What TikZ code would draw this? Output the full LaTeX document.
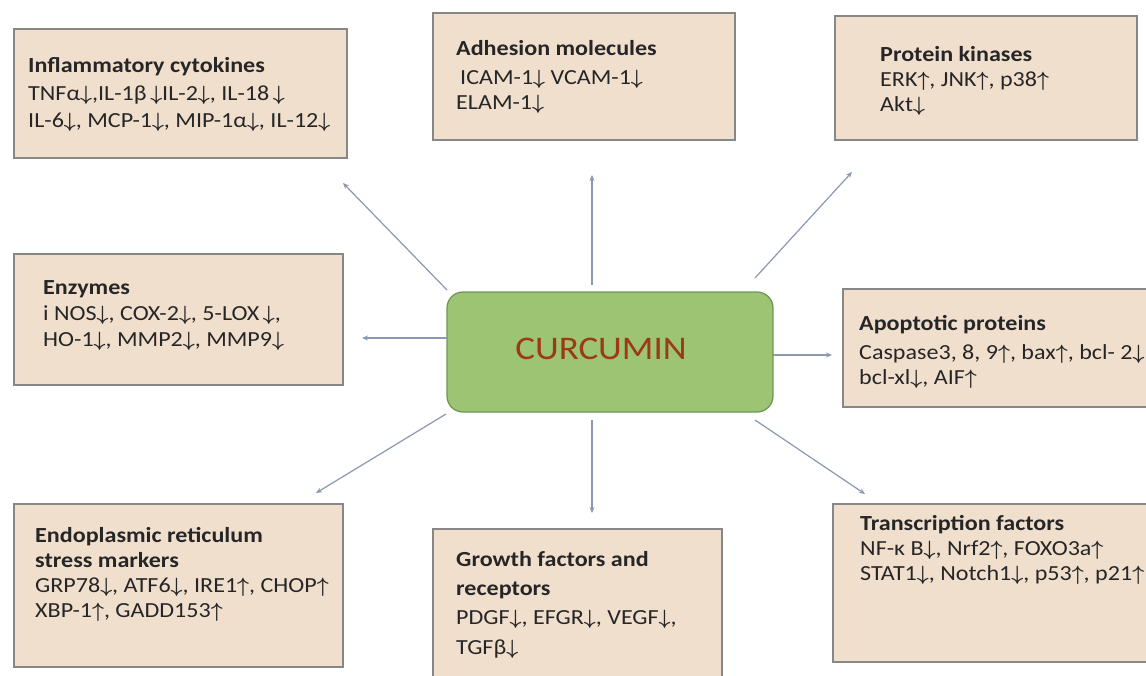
\documentclass[tikz,border=0pt]{standalone}
\usepackage{fontspec}
\setmainfont[FakeStretch=1.12]{Carlito}
\usetikzlibrary{arrows.meta}
\definecolor{boxfill}{RGB}{241,223,206}
\definecolor{boxline}{RGB}{135,135,135}
\definecolor{curfill}{RGB}{157,196,114}
\definecolor{curline}{RGB}{112,150,85}
\definecolor{curtext}{RGB}{155,58,20}
\definecolor{arrowcol}{RGB}{138,152,178}
\definecolor{txt}{RGB}{38,38,38}
\newcommand\mydn{{\boldmath$\downarrow$}}
\newcommand\myup{{\boldmath$\uparrow$}}
\newcommand\bsz{\fontsize{21.5}{24}\selectfont}
\tikzset{
  infobox/.style={draw=boxline, line width=1.4pt, fill=boxfill, anchor=north west, inner sep=0pt, outer sep=0pt},
  hd/.style={anchor=base west, inner sep=0pt, text=txt, font=\bsz\bfseries},
  tx/.style={anchor=base west, inner sep=0pt, text=txt, font=\bsz},
  conn/.style={draw=arrowcol, line width=1.2pt, -{Stealth[length=6pt,width=5pt]}},
  curbox/.style={draw=curline, line width=1.3pt, fill=curfill, rounded corners=16pt, minimum width=326pt, minimum height=120pt, inner sep=0pt}
}
\begin{document}
\begin{tikzpicture}[x=1pt,y=-1pt]
\useasboundingbox (0,0) rectangle (1146,675);
\clip (0,0) rectangle (1146,675);
\fill[white] (0,0) rectangle (1146,675);

% boxes
\node[infobox, minimum width=333pt, minimum height=129pt] (b1) at (14,29) {};
\node[infobox, minimum width=302pt, minimum height=127pt] (b2) at (433,13) {};
\node[infobox, minimum width=302pt, minimum height=124pt] (b3) at (835,16) {};
\node[infobox, minimum width=329pt, minimum height=131pt] (b4) at (14,254) {};
\node[infobox, minimum width=315pt, minimum height=118pt] (b5) at (843,289) {};
\node[infobox, minimum width=329pt, minimum height=163pt] (b6) at (14,504) {};
\node[infobox, minimum width=289pt, minimum height=160pt] (b7) at (433,529) {};
\node[infobox, minimum width=325pt, minimum height=158pt] (b8) at (833,504) {};

% centre
\node[curbox] (cur) at (610,352) {};
\node[inner sep=0pt, text=curtext, font=\fontsize{33}{36}\selectfont] (curlabel) at (601,349) {CURCUMIN};

% texts
\node[hd] (t1h) at (28,72) {Inflammatory cytokines};
\node[tx] (t1a) at (28,100) {TNFα\mydn,IL-1β\,\mydn IL-2\mydn, IL-18\,\mydn};
\node[tx] (t1b) at (28,127) {IL-6\mydn, MCP-1\mydn, MIP-1α\mydn, IL-12\mydn};

\node[hd] (t2h) at (456,55) {Adhesion molecules};
\node[tx] (t2a) at (460,84) {ICAM-1\mydn\ VCAM-1\mydn};
\node[tx] (t2b) at (456,109) {ELAM-1\mydn};

\node[hd] (t3h) at (880,61) {Protein kinases};
\node[tx] (t3a) at (880,86) {ERK\myup, JNK\myup, p38\myup};
\node[tx] (t3b) at (880,111) {Akt\mydn};

\node[hd] (t4h) at (43,294) {Enzymes};
\node[tx] (t4a) at (43,320) {i NOS\mydn, COX-2\mydn, 5-LOX\,\mydn,};
\node[tx] (t4b) at (43,346) {HO-1\mydn, MMP2\mydn, MMP9\mydn};

\node[hd] (t5h) at (859,330) {Apoptotic proteins};
\node[tx] (t5a) at (859,359) {Caspase3, 8, 9\myup, bax\myup, bcl- 2\mydn};
\node[tx] (t5b) at (859,384) {bcl-xl\mydn, AIF\myup};

\node[hd] (t6h) at (35,542) {Endoplasmic reticulum};
\node[hd] (t6i) at (35,567) {stress markers};
\node[tx] (t6a) at (35,592) {GRP78\mydn, ATF6\mydn, IRE1\myup, CHOP\myup};
\node[tx] (t6b) at (35,617) {XBP-1\myup, GADD153\myup};

\node[hd] (t7h) at (456,566) {Growth factors and};
\node[hd] (t7i) at (456,595) {receptors};
\node[tx] (t7a) at (456,624) {PDGF\mydn, EFGR\mydn, VEGF\mydn,};
\node[tx] (t7b) at (456,654) {TGFβ\mydn};

\node[hd] (t8h) at (860,530) {Transcription factors};
\node[tx] (t8a) at (860,555) {NF-κ B\mydn, Nrf2\myup, FOXO3a\myup};
\node[tx] (t8b) at (860,580) {STAT1\mydn, Notch1\mydn, p53\myup, p21\myup};

% connector ends
\coordinate (s1) at (447,290); \coordinate (e1) at (343,183);
\coordinate (s2) at (592,285); \coordinate (e2) at (592,175);
\coordinate (s3) at (755,278); \coordinate (e3) at (852,172);
\coordinate (s4) at (447,338); \coordinate (e4) at (362,338);
\coordinate (s5) at (773,355); \coordinate (e5) at (832,355);
\coordinate (s6) at (446,414); \coordinate (e6) at (316,493);
\coordinate (s7) at (592,420); \coordinate (e7) at (592,513);
\coordinate (s8) at (755,420); \coordinate (e8) at (865,494);
\foreach \i in {1,...,8} {\draw[conn] (s\i) -- (e\i);}
\end{tikzpicture}
\end{document}
